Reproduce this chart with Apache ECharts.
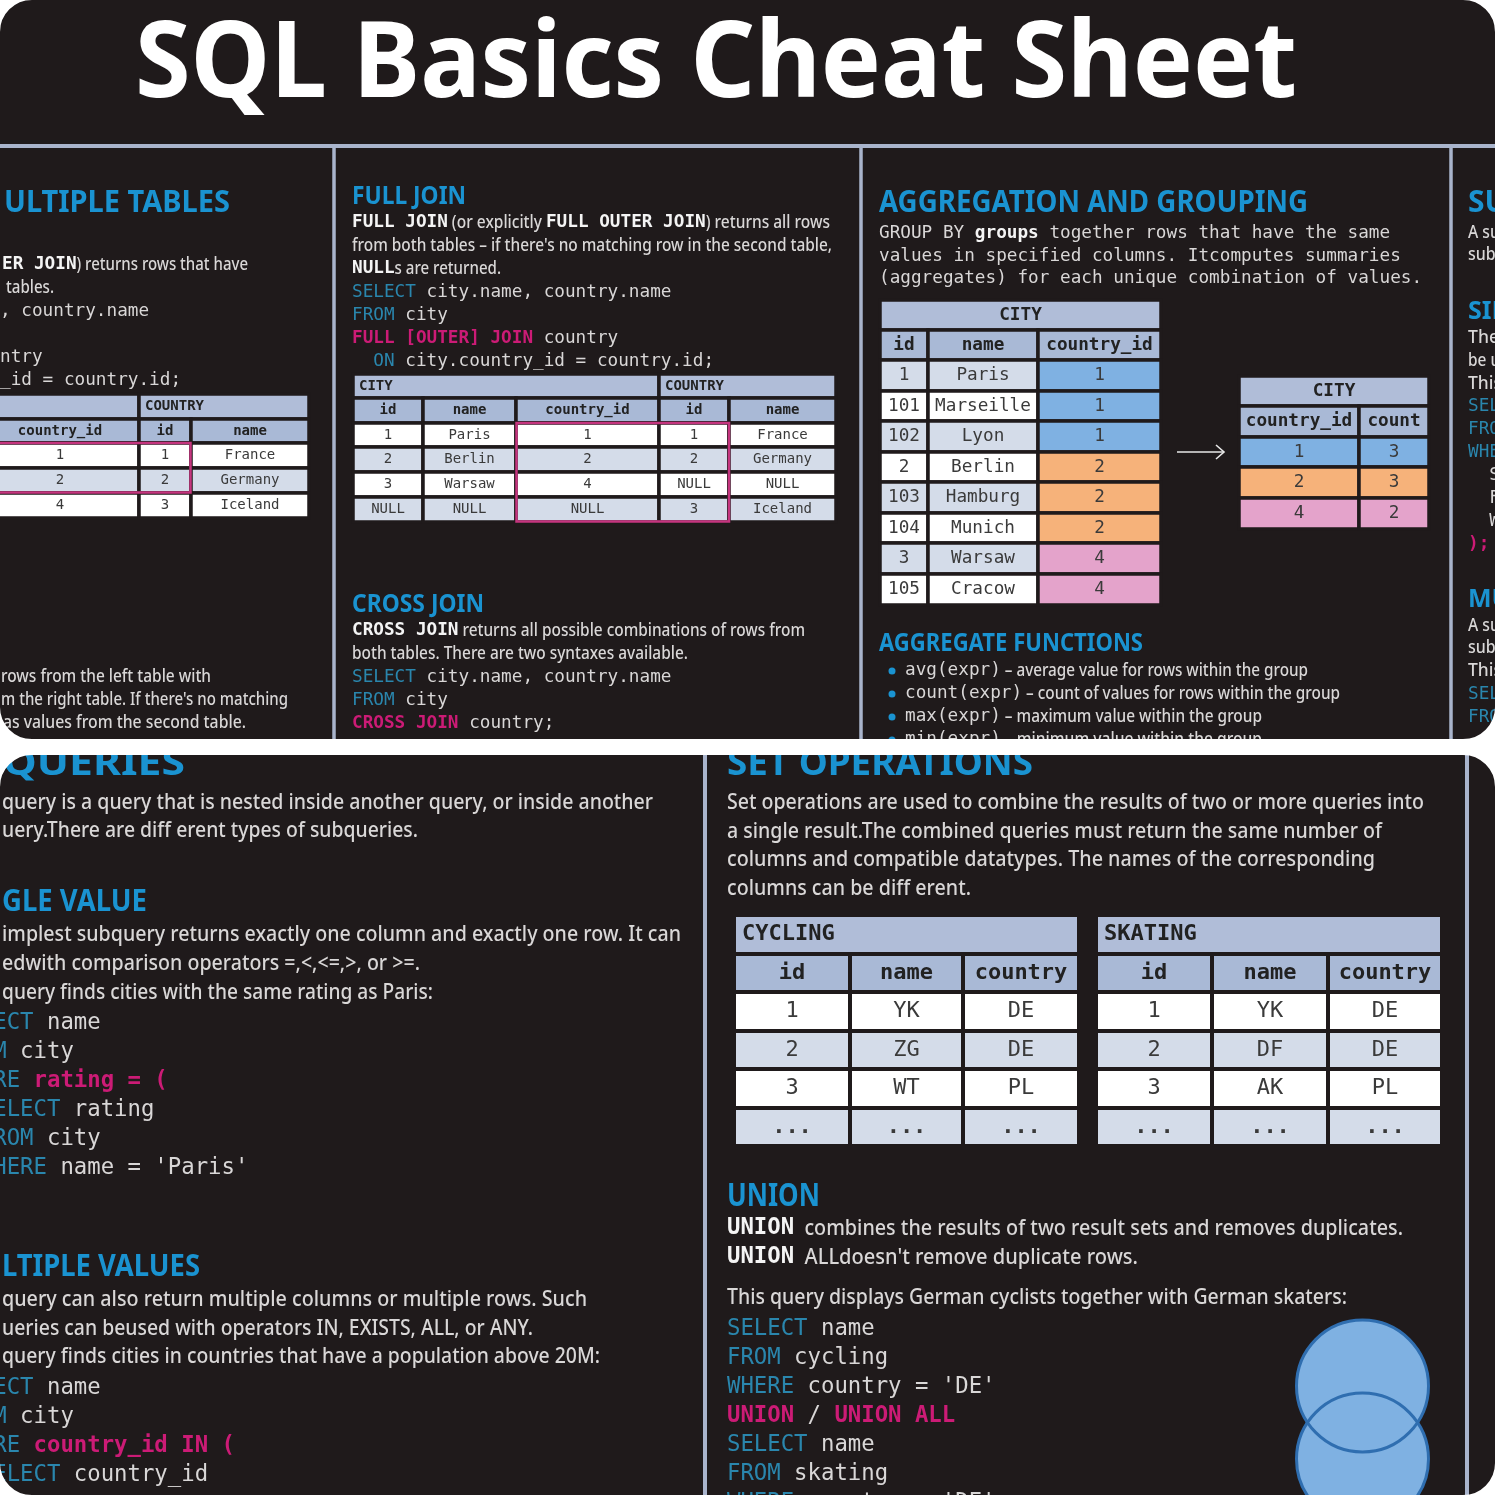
<!DOCTYPE html>
<html lang="en">
<head>
<meta charset="UTF-8">
<title>SQL Basics Cheat Sheet</title>
<script src="https://cdn.jsdelivr.net/npm/echarts@6/dist/echarts.min.js"></script>
<style>
html, body { margin: 0; padding: 0; background: #fff; }
#main { width: 1495px; height: 1495px; }
</style>
</head>
<body>
<div id="main"></div>
<script>
// text of the sheet, {x|...} picks the style of a run
var sheetTitle = 'SQL Basics Cheat Sheet';

var innerText = ['{b|ER JOIN}) returns rows that have', 'tables.'];
var innerCode = [', country.name', '', 'ntry', '_id = country.id;'];
var leftJoinText = ['rows from the left table with', 'm the right table. If there\'s no matching', 'as values from the second table.'];
var fullJoinText = [
  '{b|FULL JOIN} (or explicitly {b|FULL OUTER JOIN}) returns all rows',
  'from both tables – if there\'s no matching row in the second table,',
  '{b|NULL}s are returned.'
];
var fullJoinCode = [
  '{k|SELECT} city.name, country.name',
  '{k|FROM} city',
  '{p|FULL [OUTER] JOIN} country',
  '  {k|ON} city.country_id = country.id;'
];
var crossJoinText = [
  '{b|CROSS JOIN} returns all possible combinations of rows from',
  'both tables. There are two syntaxes available.'
];
var crossJoinCode = ['{k|SELECT} city.name, country.name', '{k|FROM} city', '{p|CROSS JOIN} country;'];
var groupingText = [
  'GROUP BY {b|groups} together rows that have the same',
  'values in specified columns. Itcomputes summaries',
  '(aggregates) for each unique combination of values.'
];
var aggregateFunctions = [
  '{m|avg(expr)} – average value for rows within the group',
  '{m|count(expr)} – count of values for rows within the group',
  '{m|max(expr)} – maximum value within the group',
  '{m|min(expr)} – minimum value within the group'
];
var edgeIntro = ['A subquery', 'subquery'];
var edgeSingle = ['The', 'be used', 'This'];
var edgeSingleCode = ['{k|SELECT}', '{k|FROM}', '{k|WHERE}', '  S', '  F', '  W', '{p|);}'];
var edgeMultiple = ['A subquery', 'subquery', 'This'];
var edgeMultipleCode = ['{k|SELECT}', '{k|FROM}'];

var subqueryText = ['query is a query that is nested inside another query, or inside another', 'uery.There are diff erent types of subqueries.'];
var singleText = [
  'implest subquery returns exactly one column and exactly one row. It can',
  'edwith comparison operators =,<,<=,>, or >=.',
  'query finds cities with the same rating as Paris:'
];
var singleCode = [
  '{k|SELECT} name', '{k|FROM} city', '{k|WHERE} {p|rating = (}',
  '  {k|SELECT} rating', '  {k|FROM} city', '  {k|WHERE} name = \'Paris\''
];
var multipleText = [
  'query can also return multiple columns or multiple rows. Such',
  'ueries can beused with operators IN, EXISTS, ALL, or ANY.',
  'query finds cities in countries that have a population above 20M:'
];
var multipleCode = ['{k|SELECT} name', '{k|FROM} city', '{k|WHERE} {p|country_id IN (}', '  {k|SELECT} country_id'];
var setOpsText = [
  'Set operations are used to combine the results of two or more queries into',
  'a single result.The combined queries must return the same number of',
  'columns and compatible datatypes. The names of the corresponding',
  'columns can be diff erent.'
];
var unionText = ['{b|UNION}  combines the results of two result sets and removes duplicates.', '{b|UNION}  ALLdoesn\'t remove duplicate rows.'];
var unionIntro = ['This query displays German cyclists together with German skaters:'];
var unionCode = [
  '{k|SELECT} name', '{k|FROM} cycling', '{k|WHERE} country = \'DE\'', '{p|UNION} / {p|UNION ALL}',
  '{k|SELECT} name', '{k|FROM} skating', '{k|WHERE} country = \'DE\''
];

// tables
var innerHead = ['country_id', 'id', 'name'];
var innerRows = [['1', '1', 'France'], ['2', '2', 'Germany'], ['4', '3', 'Iceland']];
var fullHead = ['id', 'name', 'country_id', 'id', 'name'];
var fullRows = [
  ['1', 'Paris', '1', '1', 'France'],
  ['2', 'Berlin', '2', '2', 'Germany'],
  ['3', 'Warsaw', '4', 'NULL', 'NULL'],
  ['NULL', 'NULL', 'NULL', '3', 'Iceland']
];
var cityHead = ['id', 'name', 'country_id'];
var cityRows = [
  ['1', 'Paris', '1'], ['101', 'Marseille', '1'], ['102', 'Lyon', '1'],
  ['2', 'Berlin', '2'], ['103', 'Hamburg', '2'], ['104', 'Munich', '2'],
  ['3', 'Warsaw', '4'], ['105', 'Cracow', '4']
];
var groupHead = ['country_id', 'count'];
var groupRows = [['1', '3'], ['2', '3'], ['4', '2']];
var sportHead = ['id', 'name', 'country'];
var cyclingRows = [['1', 'YK', 'DE'], ['2', 'ZG', 'DE'], ['3', 'WT', 'PL'], ['...', '...', '...']];
var skatingRows = [['1', 'YK', 'DE'], ['2', 'DF', 'DE'], ['3', 'AK', 'PL'], ['...', '...', '...']];

var BG = '#1f1a1b', RULE = '#a9b4cc', HEAD = '#1a93d1', BODY = '#d9d7d7', KEY = '#2a86ad', PINK = '#cc1b76';
var TITLE_CELL = '#b0bdd8', HEAD_CELL = '#a9b9d6', LIGHT = '#d4dce9', WHITE = '#ffffff';
var GROUP_COLORS = { '1': '#7fb1e2', '2': '#f6b27a', '4': '#e4a3cb' };
var SANS = '"Noto Sans"', MONO = '"DejaVu Sans Mono"';

var ctx = document.createElement('canvas').getContext('2d');
var graphics = [], matrices = [];

function fontOf(weight, size, family) { return weight + ' ' + size + 'px ' + family; }

function addText(list, str, x, y, font, fill, scaleX) {
  list.push({
    type: 'text', x: x, y: y + 1.5, scaleX: scaleX || 1, silent: true,
    style: { text: str, font: font, fill: fill, verticalAlign: 'middle', align: 'left' }
  });
}

function parseRuns(line, plain) {
  var runs = [], re = /\{(\w)\|([^}]*)\}/g, last = 0, m;
  while ((m = re.exec(line))) {
    if (m.index > last) runs.push({ kind: plain, text: line.slice(last, m.index) });
    runs.push({ kind: m[1], text: m[2] });
    last = re.lastIndex;
  }
  if (last < line.length) runs.push({ kind: plain, text: line.slice(last) });
  return runs;
}

function runStyle(kind, sansSize, monoSize) {
  if (kind === 's') return { font: fontOf(500, sansSize, SANS), fill: BODY, sans: true };
  if (kind === 'm') return { font: fontOf(400, monoSize, MONO), fill: BODY };
  if (kind === 'b') return { font: fontOf(700, monoSize, MONO), fill: '#f4f4f4' };
  if (kind === 'k') return { font: fontOf(400, monoSize, MONO), fill: KEY };
  return { font: fontOf(700, monoSize, MONO), fill: PINK };
}

// one line of mixed runs, sans runs get squeezed so the line stops at "end"
function drawLine(line, plain, x, y, sansSize, monoSize, end) {
  var runs = parseRuns(line, plain), fixed = 0, stretch = 0;
  runs.forEach(function (r) {
    r.st = runStyle(r.kind, sansSize, monoSize);
    ctx.font = r.st.font;
    r.w = ctx.measureText(r.text).width;
    if (r.st.sans) stretch += r.w; else fixed += r.w;
  });
  var k = end && stretch ? (end - x - fixed) / stretch : 1;
  var cx = x;
  runs.forEach(function (r) {
    var s = r.st.sans ? k : 1;
    addText(graphics, r.text, cx, y, r.st.font, r.st.fill, s);
    cx += r.w * s;
  });
}

function sansBlock(lines, x, y, step, size, monoSize, ends) {
  lines.forEach(function (l, i) {
    drawLine(l, 's', Array.isArray(x) ? x[i] : x, y + i * step, size, monoSize, ends && ends[i]);
  });
}
function codeBlock(lines, x, y, step, monoSize) {
  lines.forEach(function (l, i) {
    if (l) drawLine(l, 'm', x, y + i * step, 18, monoSize);
  });
}

function heading(str, x, y, size, end) {
  var font = fontOf(700, size, SANS);
  ctx.font = font;
  var k = end ? (end - x) / ctx.measureText(str).width : 1;
  addText(graphics, str, x, y, font, HEAD, k);
}

// table on a matrix coordinate system; xs, ys are the cell boundaries
function addTable(xs, ys, titles, head, rows, fill, size, titleLeft, gap, pad) {
  var cols = [], rws = [], body = [];
  for (var i = 1; i < xs.length; i++) cols.push({ value: 'c' + i, size: xs[i] - xs[i - 1] });
  for (var j = 1; j < ys.length; j++) rws.push({ value: 'r' + j, size: ys[j] - ys[j - 1] });
  var lab = function (weight, extra) {
    var o = { show: true, color: '#222222', fontFamily: MONO, fontSize: size, fontWeight: weight, padding: [pad, 0, 0, 0] };
    for (var key in extra) o[key] = extra[key];
    return o;
  };
  titles.forEach(function (t) {
    body.push({
      coord: [t.from === t.to ? t.from : [t.from, t.to], 0], mergeCells: t.from !== t.to, value: t.text,
      itemStyle: { color: TITLE_CELL },
      label: lab(700, titleLeft ? { align: 'left', position: 'insideLeft', distance: titleLeft } : {})
    });
  });
  head.forEach(function (h, c) {
    body.push({ coord: [c, 1], value: h, itemStyle: { color: HEAD_CELL }, label: lab(700) });
  });
  rows.forEach(function (row, r) {
    row.forEach(function (v, c) {
      body.push({
        coord: [c, r + 2], value: v, itemStyle: { color: fill(r, c, v) },
        label: lab(v === '...' ? 700 : 400, { color: '#3a3a3a' })
      });
    });
  });
  matrices.push({
    z: 3,
    left: xs[0], top: ys[0], width: xs[xs.length - 1] - xs[0], height: ys[ys.length - 1] - ys[0],
    x: { show: false, data: cols }, y: { show: false, data: rws },
    corner: { show: false },
    backgroundStyle: { color: 'transparent', borderWidth: 0 },
    body: { data: body, silent: true, itemStyle: { borderColor: BG, borderWidth: gap, color: WHITE } }
  });
}

function stripe(r) { return r % 2 ? LIGHT : WHITE; }
function stripeOdd(r) { return r % 2 ? WHITE : LIGHT; }

function outline(x0, y0, x1, y1) {
  graphics.push({
    type: 'rect', silent: true,
    shape: { x: x0, y: y0, width: x1 - x0, height: y1 - y0 },
    style: { fill: 'none', stroke: '#c5357f', lineWidth: 2.5 }
  });
}

function rule(x0, y0, x1, y1, w) {
  graphics.push({
    type: 'line', silent: true,
    shape: { x1: x0, y1: y0, x2: x1, y2: y1 },
    style: { stroke: RULE, lineWidth: w }
  });
}

// ---- top panel
function topPanel() {
  ctx.font = fontOf(700, 106, SANS);
  addText(graphics, sheetTitle, 135, 65, fontOf(700, 106, SANS), '#ffffff', 1162 / ctx.measureText(sheetTitle).width);
  rule(0, 146, 1495, 146, 4);
  rule(334, 146, 334, 739, 3.5);
  rule(861, 146, 861, 739, 3.5);
  rule(1451, 146, 1451, 739, 3.5);

  heading('ULTIPLE TABLES', 4, 201.5, 30, 230);
  drawLine(innerText[0], 's', 2, 263, 18, 17.7, 248);
  drawLine(innerText[1], 's', 6, 286, 18, 17.7, 54);
  codeBlock(innerCode, 0, 310, 23, 17.7);
  sansBlock(leftJoinText, [1, 1, 3], 675, 23, 18, 17.7, [211, 288, 246]);

  heading('FULL JOIN', 352, 195, 25, 466);
  sansBlock(fullJoinText, 352, 221, 23, 18, 17.7, [830, 832, 501]);
  codeBlock(fullJoinCode, 352, 291, 23, 17.7);
  heading('CROSS JOIN', 352, 603, 25, 484);
  sansBlock(crossJoinText, 352, 629, 23, 18, 17.7, [805, 688]);
  codeBlock(crossJoinCode, 352, 676, 23, 17.7);

  heading('AGGREGATION AND GROUPING', 879, 201.5, 30, 1308);
  codeBlock(groupingText, 879, 232, 22.5, 17.7);
  heading('AGGREGATE FUNCTIONS', 879, 642, 25, 1143);
  sansBlock(aggregateFunctions, 905, 669, 23, 18, 17.7, [1308, 1340, 1262, 1262]);
  aggregateFunctions.forEach(function (f, i) {
    graphics.push({ type: 'circle', silent: true, shape: { cx: 892, cy: 671 + i * 23, r: 3.5 }, style: { fill: HEAD } });
  });

  // arrow between the two group tables
  graphics.push({ type: 'polyline', silent: true, shape: { points: [[1177, 452], [1224, 452]] }, style: { stroke: '#e8e8e8', lineWidth: 1.6, fill: 'none' } });
  graphics.push({ type: 'polyline', silent: true, shape: { points: [[1216, 445], [1224, 452], [1216, 459]] }, style: { stroke: '#e8e8e8', lineWidth: 1.6, fill: 'none' } });

  heading('SUBQUERIES', 1468, 201.5, 30);
  sansBlock(edgeIntro, 1468, 231, 22.5, 18, 17.7, [1553, 1540]);
  heading('SINGLE VALUE', 1468, 310, 25);
  sansBlock(edgeSingle, 1468, 336, 23, 18, 17.7, [1499, 1526, 1502]);
  codeBlock(edgeSingleCode, 1468, 405, 23, 17.7);
  heading('MULTIPLE VALUES', 1468, 598, 25);
  sansBlock(edgeMultiple, 1468, 624, 22.5, 18, 17.7, [1553, 1540, 1502]);
  codeBlock(edgeMultipleCode, 1468, 693, 23, 17.7);

  addTable([-19, 139, 190.5, 309], [393.5, 418.5, 443, 467.5, 492.5, 518],
    [{ from: 0, to: 0, text: '' }, { from: 1, to: 2, text: 'COUNTRY' }], innerHead, innerRows, stripe, 14, 6, 3.5, 2);
  outline(-6, 443, 190.5, 492.5);

  addTable([352.5, 423, 516, 659, 729, 836], [373.5, 398, 422.5, 447, 472, 497, 522],
    [{ from: 0, to: 2, text: 'CITY' }, { from: 3, to: 4, text: 'COUNTRY' }], fullHead, fullRows, stripe, 14, 6, 3.5, 2);
  outline(516.5, 423, 729, 521.5);

  var cityEdgesY = [299.5, 329.5, 360, 390.5, 421, 451.5, 482, 512.5, 543, 573.5, 604.5];
  addTable([879.5, 927.5, 1038, 1160.5], cityEdgesY, [{ from: 0, to: 2, text: 'CITY' }], cityHead, cityRows,
    function (r, c, v) { return c === 2 ? GROUP_COLORS[v] : stripeOdd(r); }, 17.7, 0, 3.5, 3);
  addTable([1238.5, 1359, 1428.5], [375.5, 405.5, 436.5, 467, 497.5, 528.5], [{ from: 0, to: 1, text: 'CITY' }], groupHead, groupRows,
    function (r) { return GROUP_COLORS[groupRows[r][0]]; }, 17.7, 0, 3.5, 3);
}

// ---- bottom panel
function bottomPanel() {
  rule(705, 755, 705, 1495, 4);
  rule(1467, 755, 1467, 1495, 4);

  heading('QUERIES', 3, 763, 36, 185);
  sansBlock(subqueryText, 2, 801, 28.5, 22.5, 22.3, [653, 418]);
  heading('GLE VALUE', 2, 900.5, 30, 147);
  sansBlock(singleText, 2, 933, 29, 22.5, 22.3, [681, 420, 433]);
  codeBlock(singleCode, -47, 1021.5, 29, 22.3);
  heading('LTIPLE VALUES', 2, 1265.5, 30, 200);
  sansBlock(multipleText, 2, 1298, 28.7, 22.5, 22.3, [587, 533, 600]);
  codeBlock(multipleCode, -47, 1386.5, 29, 22.3);

  heading('SET OPERATIONS', 727, 763, 36, 1033);
  sansBlock(setOpsText, 727, 801, 28.7, 22.5, 22.3, [1424, 1382, 1375, 971]);
  heading('UNION', 727, 1195, 32, 820);
  drawLine(unionText[0], 's', 727, 1227, 22.5, 22.3, 1403);
  drawLine(unionText[1], 's', 727, 1256, 22.5, 22.3, 1138);
  sansBlock(unionIntro, 727, 1296, 29, 22.5, 22.3, [1347]);
  codeBlock(unionCode, 727, 1327.5, 29, 22.3);

  var sportY = [915, 953.5, 992, 1030.5, 1069, 1107.5, 1146];
  addTable([734, 850, 962.5, 1079], sportY, [{ from: 0, to: 2, text: 'CYCLING' }], sportHead, cyclingRows, stripe, 22, 8, 4, 4);
  addTable([1096, 1212, 1328, 1442], sportY, [{ from: 0, to: 2, text: 'SKATING' }], sportHead, skatingRows, stripe, 22, 8, 4, 4);

  // venn of the two selects
  var vennFill = '#7fb1e2', vennLine = '#2f6eb0';
  graphics.push({ type: 'circle', silent: true, shape: { cx: 1362.5, cy: 1386, r: 66 }, style: { fill: vennFill } });
  graphics.push({ type: 'circle', silent: true, shape: { cx: 1362.5, cy: 1459, r: 66 }, style: { fill: vennFill, stroke: vennLine, lineWidth: 3 } });
  graphics.push({ type: 'circle', silent: true, shape: { cx: 1362.5, cy: 1386, r: 66 }, style: { fill: 'none', stroke: vennLine, lineWidth: 3 } });
}

// white frame with rounded inner edge, hides whatever runs past a panel
function frame(y0, y1) {
  var lw = 16, r = 32;
  return {
    type: 'rect', silent: true,
    shape: { x: -lw / 2, y: y0 - lw / 2, width: 1495 + lw, height: y1 - y0 + lw, r: r + lw / 2 },
    style: { fill: 'none', stroke: '#ffffff', lineWidth: lw }
  };
}

topPanel();
bottomPanel();

var panels = [
  { type: 'rect', silent: true, z: -100, shape: { x: 0, y: 0, width: 1495, height: 739 }, style: { fill: BG } },
  { type: 'rect', silent: true, z: -100, shape: { x: 0, y: 755, width: 1495, height: 740 }, style: { fill: BG } }
];
var frames = [frame(0, 739), frame(755, 1495)];

var elements = panels.concat(graphics).concat(frames);
elements.forEach(function (el, i) { el.z2 = i; if (el.z === undefined) el.z = 50; });

var myChart = echarts.init(document.getElementById('main'), null, { renderer: 'canvas' });
myChart.setOption({
  backgroundColor: '#ffffff',
  animation: false,
  matrix: matrices,
  graphic: { elements: elements }
});
</script>
</body>
</html>
